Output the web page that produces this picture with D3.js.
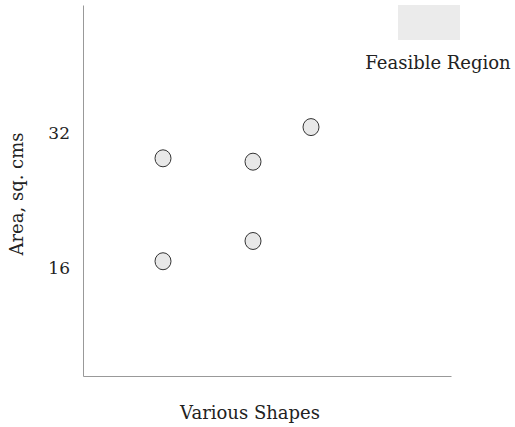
<!DOCTYPE html>
<html>
<head>
<meta charset="utf-8">
<script src="https://cdn.jsdelivr.net/npm/d3@7"></script>
<style>
  html, body { margin: 0; padding: 0; background: #fff; }
  text { font-family: "DejaVu Serif", "Liberation Serif", serif; fill: #222; }
</style>
</head>
<body>
<svg id="chart" width="515" height="427"></svg>
<script>
// Data
const shapeX = [10, 10, 21.25, 21.25, 28.5];
const areaY = [29.0, 16.8, 28.6, 19.2, 32.7];
const yTicks = [16, 32];
const xLabel = "Various Shapes";
const yLabel = "Area, sq. cms";
const legendLabel = "Feasible Region";

(function () {
const svg = d3.select("#chart");
const mLeft = 83, mRight = 451, mTop = 5, mBottom = 376;
const font = "DejaVu Serif";

const x = d3.scaleLinear().domain([0, 46]).range([mLeft, mRight]);
const y = d3.scaleLinear().domain([3.2, 47.17]).range([mBottom, mTop]);

// axes
const yAxis = d3.axisLeft(y).tickValues(yTicks).tickSize(0).tickPadding(13);
const gy = svg.append("g").attr("transform", `translate(${mLeft},0)`).call(yAxis);
gy.select(".domain").attr("stroke", "#999").attr("stroke-width", 1);
gy.selectAll("text").style("font-family", font).style("font-size", "17px").attr("fill", "#222");

const xAxis = d3.axisBottom(x).tickValues([]).tickSize(0);
const gx = svg.append("g").attr("transform", `translate(0,${mBottom})`).call(xAxis);
gx.select(".domain").attr("stroke", "#999").attr("stroke-width", 1);

// points
svg.append("g").selectAll("ellipse")
  .data(shapeX.map((d, i) => ({x: d, y: areaY[i]})))
  .join("ellipse")
  .attr("cx", d => x(d.x))
  .attr("cy", d => y(d.y))
  .attr("rx", 8)
  .attr("ry", 8.5)
  .attr("fill", "#e8e8e8")
  .attr("stroke", "#333")
  .attr("stroke-width", 1);

// axis titles
svg.append("text")
  .attr("x", 250).attr("y", 419)
  .attr("text-anchor", "middle")
  .style("font-size", "18px")
  .text(xLabel);

svg.append("text")
  .attr("transform", `translate(23,194) rotate(-90)`)
  .attr("text-anchor", "middle")
  .style("font-size", "18px")
  .text(yLabel);

// legend
svg.append("rect")
  .attr("x", 398).attr("y", 5).attr("width", 62).attr("height", 35)
  .attr("fill", "#ebebeb");
svg.append("text")
  .attr("x", 438).attr("y", 69)
  .attr("text-anchor", "middle")
  .style("font-size", "18px")
  .text(legendLabel);
})();
</script>
</body>
</html>
